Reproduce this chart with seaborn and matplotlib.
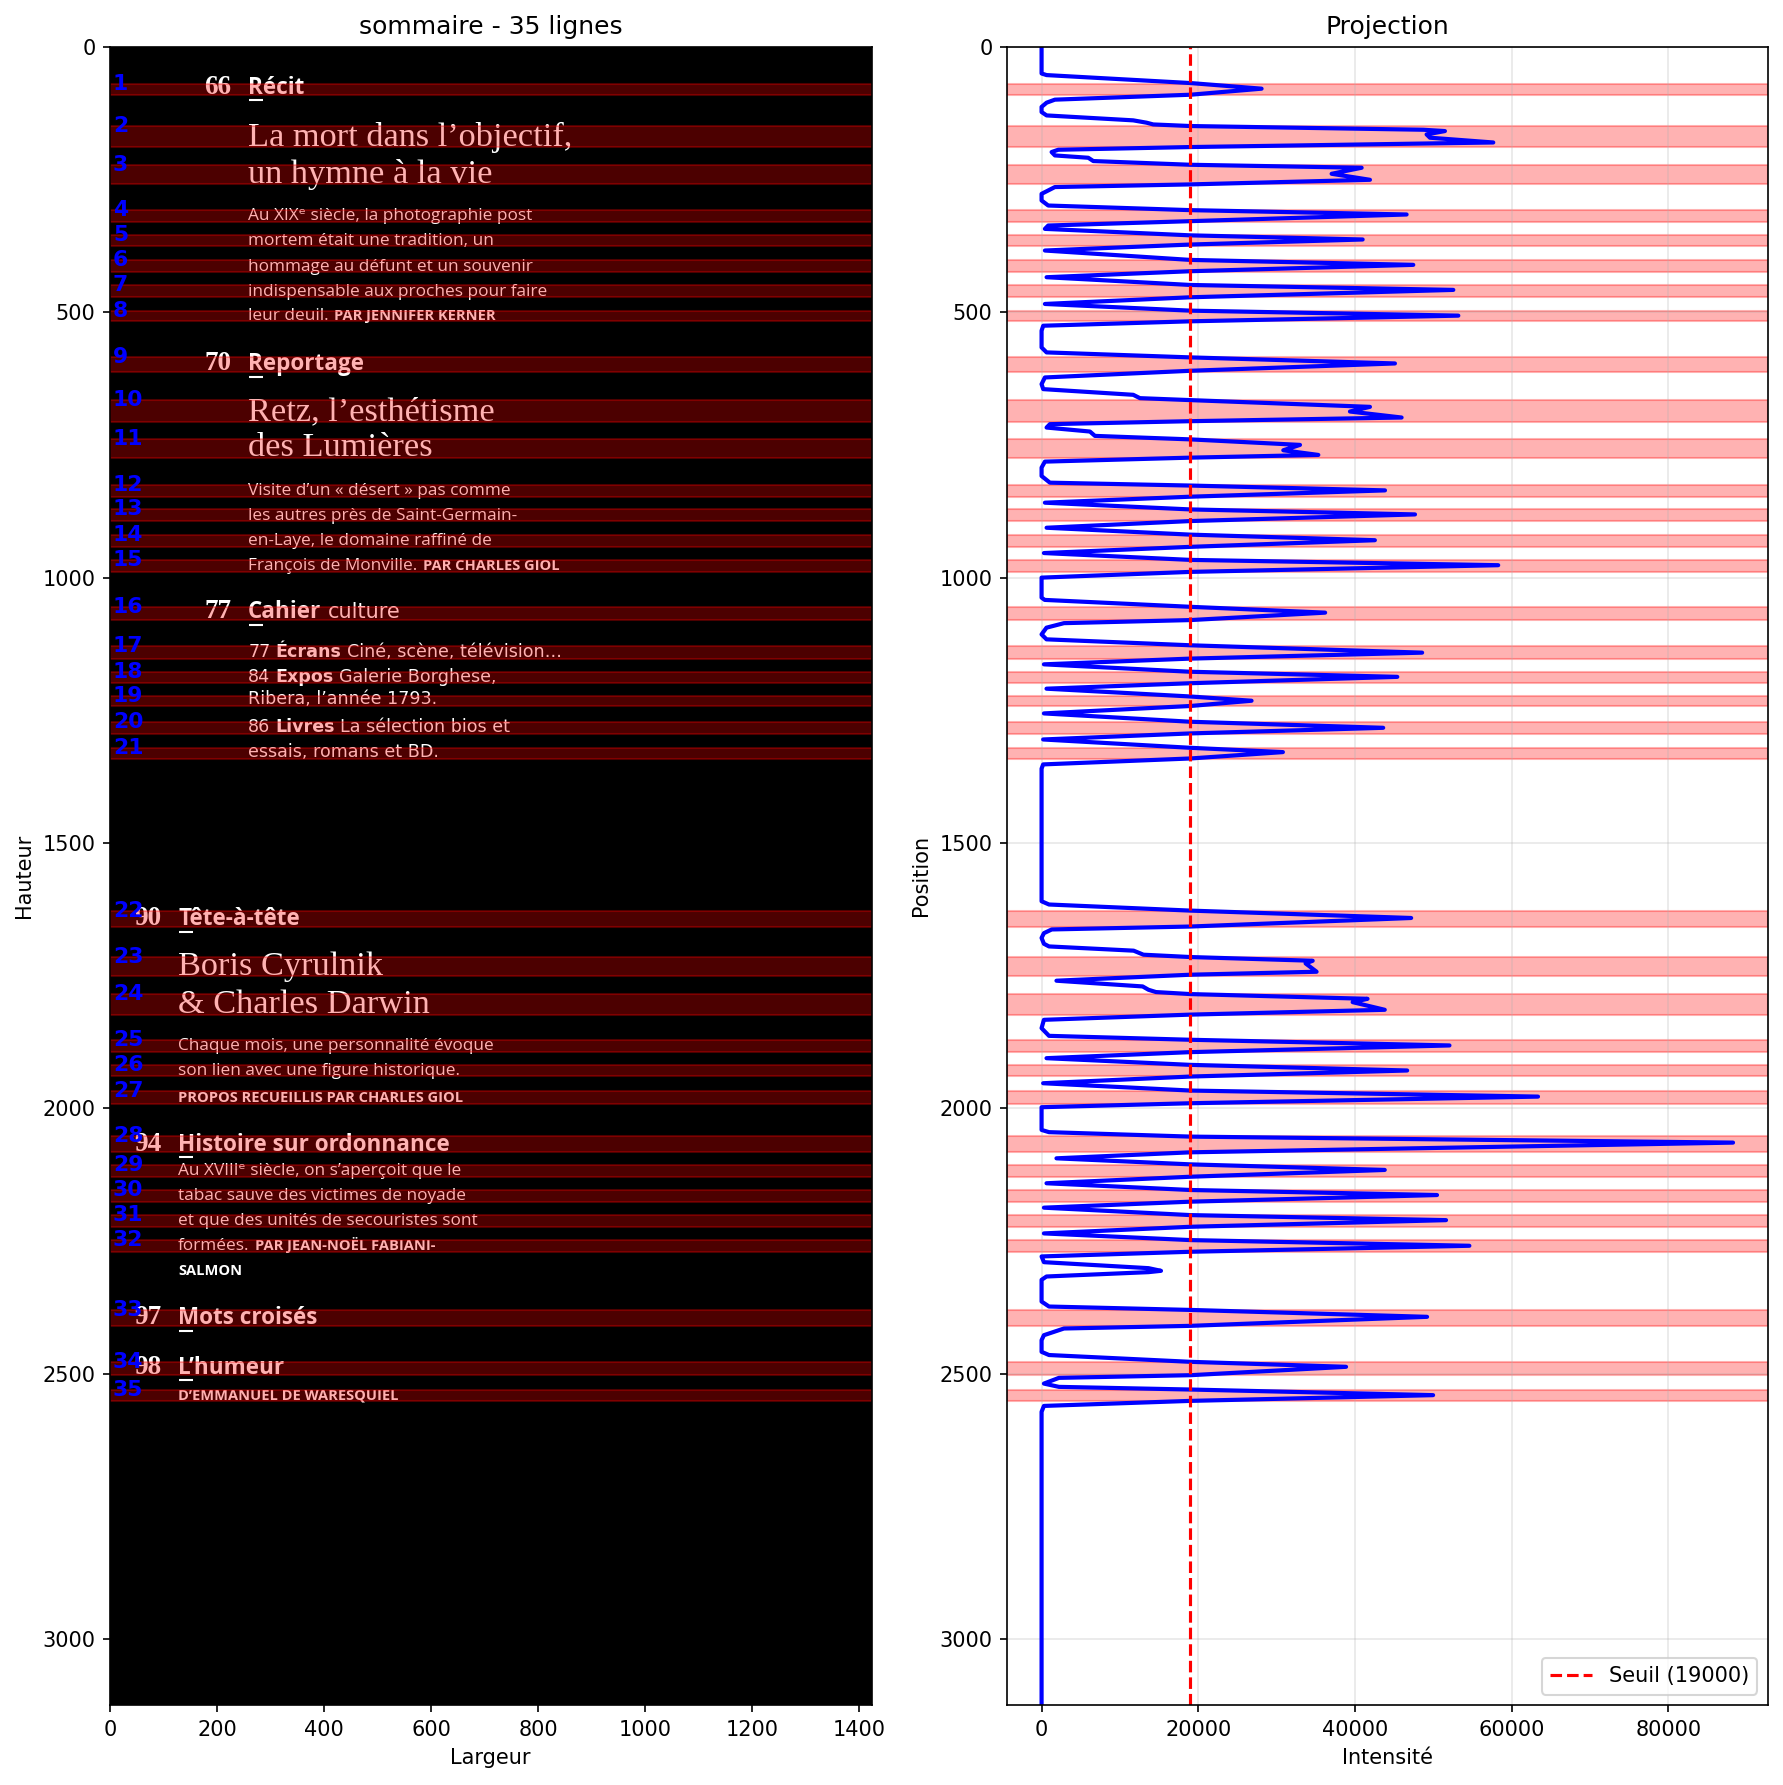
import matplotlib
matplotlib.use("Agg")
import matplotlib.pyplot as plt
import seaborn as sns
import numpy as np
import pandas as pd

# ---------------- data ----------------
img_width = 1424
img_height = 3125
threshold = 19000

band_start = [69, 149, 222, 308, 354, 401, 448, 497, 585, 665, 739, 826, 871, 919, 967,
              1055, 1128, 1177, 1224, 1272, 1321, 1628, 1715, 1785, 1871, 1918, 1967,
              2053, 2106, 2154, 2201, 2248, 2380, 2478, 2530]
band_end = [91, 189, 259, 330, 376, 425, 472, 517, 612, 706, 774, 848, 894, 942, 989,
            1080, 1153, 1199, 1242, 1294, 1341, 1658, 1751, 1824, 1894, 1940, 1991,
            2083, 2129, 2176, 2223, 2270, 2410, 2503, 2551]

proj_pos = [0, 50, 53, 68, 78.6, 90, 99.3, 105, 113, 122.6, 129, 138.3, 142.7, 146, 149,
            156, 158.5, 164.8, 171, 180, 188.6, 193.7, 198, 204.4, 208.8, 215, 222, 227.6,
            239, 250.3, 259, 264, 276.8, 289.3, 298.8, 307.5, 315.7, 328.3, 336.5, 342.8,
            355, 362.8, 372.3, 383.6, 401.3, 410.6, 422.6, 433.9, 448.5, 457.8, 471.7,
            484.3, 496.9, 506.3, 517, 525.3, 534.7, 566.2, 575.6, 585, 596.4, 610.2, 622.8,
            635.4, 644.8, 655.5, 661.8, 665.5, 678.2, 687, 698.3, 705.2, 710.8, 717.2,
            724.7, 732.9, 739.5, 749.9, 760, 768.8, 773.9, 781.4, 792.7, 808.5, 821.1,
            826.5, 835.6, 847.5, 858.8, 871.5, 880.9, 893.4, 906, 919, 929.5, 942, 953.7,
            966.6, 976.6, 989.2, 1000, 1037.7, 1042, 1055, 1066, 1080, 1085.8, 1094.3,
            1107, 1116.3, 1127.5, 1141.4, 1152.6, 1163.4, 1177.4, 1187, 1199, 1209.3,
            1224, 1232, 1241.9, 1255.9, 1271.6, 1283, 1293.6, 1305, 1320.7, 1328.8,
            1340.8, 1352, 1360, 1609.9, 1616, 1627.5, 1641.4, 1657.5, 1663, 1670, 1679,
            1690, 1695, 1703, 1710.6, 1715, 1722, 1727, 1742.7, 1748.3, 1759.6, 1770.4,
            1776.7, 1781, 1784.8, 1793.7, 1800, 1814.4, 1823.5, 1833.3, 1849, 1863.5,
            1870.9, 1881.6, 1894.2, 1905.6, 1918.2, 1928.8, 1940.2, 1952.8, 1966.6, 1978,
            1990.5, 1998, 2040.8, 2045, 2053.4, 2064.7, 2083, 2094.3, 2105.7, 2116.2,
            2129, 2141.3, 2154, 2163.5, 2176, 2187.3, 2201.3, 2210.8, 2223.3, 2235.8,
            2248.4, 2259.1, 2270.4, 2279.2, 2290, 2301.3, 2306.3, 2308.8, 2317, 2323.3,
            2364.2, 2373.6, 2380, 2393, 2410, 2415, 2427.6, 2437, 2459, 2465, 2477.8,
            2487.2, 2503, 2508, 2518.8, 2525, 2530, 2540.6, 2551.4, 2560.9, 2572, 3124]
proj_val = [0, 0, 640, 19000, 28080, 19000, 1700, 640, 0, 0, 640, 11700, 13400, 14250, 19000,
            48720, 51480, 49140, 49570, 57650, 19000, 2130, 1280, 1700, 5960, 6600, 19000, 40850,
            37020, 41910, 19000, 1700, 0, 0, 850, 19000, 46590, 19000, 850, 425,
            19000, 40980, 19000, 425, 19000, 47440, 19000, 640, 19000, 52550, 19000,
            425, 19000, 53190, 19000, 213, 0, 0, 640, 19000, 45100, 19000, 425,
            0, 213, 11700, 12550, 19000, 41910, 39360, 45950, 19000, 1064, 640,
            6170, 6810, 19000, 32980, 30850, 35320, 19000, 425, 0, 0, 1064,
            19000, 43830, 19000, 425, 19000, 47660, 19000, 640, 19000, 42540, 19000, 300,
            19000, 58280, 19000, 0, 0, 400, 19000, 36190, 19000, 2860, 630,
            0, 630, 19000, 48570, 19000, 300, 19000, 45400, 19000, 630,
            19000, 26800, 19000, 300, 19000, 43600, 19000, 200, 19000, 30800,
            19000, 200, 0, 0, 950, 19000, 47170, 19000, 1300, 300, 0,
            300, 950, 11750, 13000, 19000, 34600, 33700, 35100, 19000, 1900, 12900,
            13650, 14600, 19000, 41600, 39700, 43800, 19000, 300, 0, 950,
            19000, 52060, 19000, 630, 19000, 46660, 19000, 200, 19000, 63360,
            19000, 0, 0, 950, 19000, 88250, 19000, 1900, 19000, 43800,
            19000, 630, 19000, 50470, 19000, 300, 19000, 51620, 19000, 300,
            19000, 54600, 19000, 0, 300, 13650, 15240, 13650, 630, 0,
            0, 950, 19000, 49200, 19000, 2860, 300, 0, 0, 950, 19000,
            38860, 19000, 2220, 300, 2220, 19000, 49970, 19000, 300, 0, 0]

page_numbers = {1: '66', 9: '70', 16: '77', 22: '90', 28: '94', 33: '97', 34: '98'}

# (band number or None, column, baseline if no band, segments)
text_lines = [
    (1, 'A', None, [('Récit', 'head')]),
    (2, 'A', None, [('La mort dans l’objectif,', 'title')]),
    (3, 'A', None, [('un hymne à la vie', 'title')]),
    (4, 'A', None, [('Au XIXᵉ siècle, la photographie post', 'body')]),
    (5, 'A', None, [('mortem était une tradition, un', 'body')]),
    (6, 'A', None, [('hommage au défunt et un souvenir', 'body')]),
    (7, 'A', None, [('indispensable aux proches pour faire', 'body')]),
    (8, 'A', None, [('leur deuil.', 'body'), ('PAR JENNIFER KERNER', 'by')]),
    (9, 'A', None, [('Reportage', 'head')]),
    (10, 'A', None, [('Retz, l’esthétisme', 'title')]),
    (11, 'A', None, [('des Lumières', 'title')]),
    (12, 'A', None, [('Visite d’un « désert » pas comme', 'body')]),
    (13, 'A', None, [('les autres près de Saint-Germain-', 'body')]),
    (14, 'A', None, [('en-Laye, le domaine raffiné de', 'body')]),
    (15, 'A', None, [('François de Monville.', 'body'), ('PAR CHARLES GIOL', 'by')]),
    (16, 'A', None, [('Cahier', 'head'), ('culture', 'cultl')]),
    (17, 'A', None, [('77', 'cult'), ('Écrans', 'cultb'), ('Ciné, scène, télévision…', 'cult')]),
    (18, 'A', None, [('84', 'cult'), ('Expos', 'cultb'), ('Galerie Borghese,', 'cult')]),
    (19, 'A', None, [('Ribera, l’année 1793.', 'cult')]),
    (20, 'A', None, [('86', 'cult'), ('Livres', 'cultb'), ('La sélection bios et', 'cult')]),
    (21, 'A', None, [('essais, romans et BD.', 'cult')]),
    (22, 'B', None, [('Tête-à-tête', 'head')]),
    (23, 'B', None, [('Boris Cyrulnik', 'title')]),
    (24, 'B', None, [('& Charles Darwin', 'title')]),
    (25, 'B', None, [('Chaque mois, une personnalité évoque', 'body')]),
    (26, 'B', None, [('son lien avec une figure historique.', 'body')]),
    (27, 'B', None, [('PROPOS RECUEILLIS PAR CHARLES GIOL', 'by')]),
    (28, 'B', None, [('Histoire sur ordonnance', 'head')]),
    (29, 'B', None, [('Au XVIIIᵉ siècle, on s’aperçoit que le', 'body')]),
    (30, 'B', None, [('tabac sauve des victimes de noyade', 'body')]),
    (31, 'B', None, [('et que des unités de secouristes sont', 'body')]),
    (32, 'B', None, [('formées.', 'body'), ('PAR JEAN-NOËL FABIANI-', 'by')]),
    (None, 'B', 2314, [('SALMON', 'by')]),
    (33, 'B', None, [('Mots croisés', 'head')]),
    (34, 'B', None, [('L’humeur', 'head')]),
    (35, 'B', None, [('D’EMMANUEL DE WARESQUIEL', 'by')]),
]

# ---------------- layout / style ----------------
DPI = 150
columns = {'A': (226, 258), 'B': (95, 127)}   # (page number right edge, text left edge)
styles = {
    'num': dict(family=['Liberation Serif', 'DejaVu Serif'], fontsize=13, fontweight='bold'),
    'head': dict(family=['Open Sans', 'DejaVu Sans'], fontsize=10.8, fontweight='bold'),
    'title': dict(family=['Liberation Serif', 'DejaVu Serif'], fontsize=16.5),
    'body': dict(family=['Open Sans', 'DejaVu Sans'], fontsize=8.3),
    'by': dict(family=['Open Sans', 'DejaVu Sans'], fontsize=7, fontweight='bold'),
    'cult': dict(family=['DejaVu Sans'], fontsize=8.4),
    'cultb': dict(family=['DejaVu Sans'], fontsize=8.4, fontweight='bold'),
    'cultl': dict(family=['DejaVu Sans'], fontsize=10),
}

W, H = 1783, 1785
fig = plt.figure(figsize=(W / DPI, H / DPI), dpi=DPI)
ax1 = fig.add_axes([110 / W, 80 / H, 761.5 / W, 1658.3 / H])
ax2 = fig.add_axes([1007 / W, 80 / H, 760.6 / W, 1658.3 / H])

# ---------------- left panel ----------------
ax1.imshow(np.zeros((img_height, img_width)), cmap='gray', vmin=0, vmax=255,
           aspect='auto', zorder=0)
ax1.set_xlim(-0.5, img_width - 0.5)
ax1.set_ylim(img_height - 0.5, -0.5)

renderer = fig.canvas.get_renderer()
ppu = ax1.transData.transform((1, 0))[0] - ax1.transData.transform((0, 0))[0]

for band, col, base, segs in text_lines:
    num_x, text_x = columns[col]
    y = band_end[band - 1] - 3 if band is not None else base
    if band in page_numbers:
        ax1.text(num_x, y, page_numbers[band], color='white', ha='right', va='baseline',
                 zorder=1, **styles['num'])
        ax1.hlines(band_end[band - 1] + 9, text_x + 1, text_x + 28, color='white',
                   lw=1, zorder=1)
    x = text_x
    for txt, st in segs:
        fp = styles[st]
        t = ax1.text(x, y, txt, color='white', ha='left', va='baseline', zorder=1, **fp)
        w = t.get_window_extent(renderer).width / ppu
        x += w + fp['fontsize'] * 0.3 * DPI / 72 / ppu

for i, (s, e) in enumerate(zip(band_start, band_end)):
    ax1.axhspan(s, e, color='red', alpha=0.3, zorder=2)
    ax1.text(5, s, str(i + 1), color='blue', fontsize=10.5, fontweight='bold',
             ha='left', va='center', zorder=4)

ax1.set_title(f'sommaire - {len(band_start)} lignes')
ax1.set_xlabel('Largeur')
ax1.set_ylabel('Hauteur')

# ---------------- right panel ----------------
df = pd.DataFrame({'Position': proj_pos, 'Intensité': proj_val})
sns.lineplot(data=df, x='Intensité', y='Position', orient='y', sort=False,
             estimator=None, color='blue', linewidth=2, ax=ax2)
ax2.axvline(threshold, color='red', linestyle='--', linewidth=1.5,
            label=f'Seuil ({threshold})')
for s, e in zip(band_start, band_end):
    ax2.axhspan(s, e, color='red', alpha=0.3)
ax2.set_ylim(img_height - 0.5, -0.5)
ax2.grid(True, alpha=0.3)
ax2.set_title('Projection')
ax2.set_xlabel('Intensité')
ax2.set_ylabel('Position')
ax2.legend(loc='lower right')

fig.savefig('out.png', dpi=DPI)
